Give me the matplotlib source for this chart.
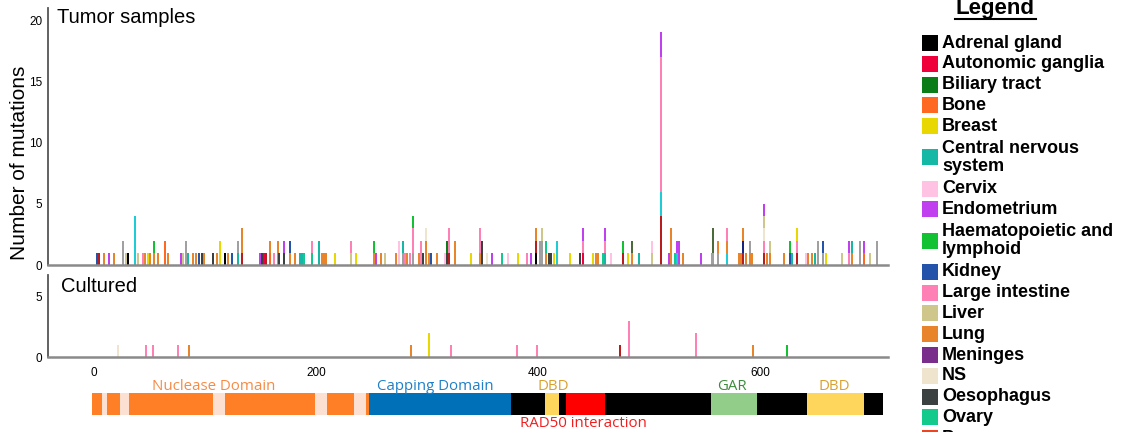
import numpy as np
import matplotlib.pyplot as plt
from matplotlib.patches import Rectangle
from matplotlib.lines import Line2D

plt.rcParams['font.family'] = ['Liberation Sans', 'DejaVu Sans']

### Data ###
# tissue code, legend name, colour (legend is cut off after Pancreas)
tissue_codes = ['AG', 'AU', 'BT', 'BO', 'BR', 'CN', 'CE', 'EN', 'HL', 'KI', 'LI', 'LV', 'LU',
                'ME', 'NS', 'OE', 'OV', 'PA', 'SK', 'ST', 'TH', 'UA', 'SO']
tissue_names = ['Adrenal gland', 'Autonomic ganglia', 'Biliary tract', 'Bone', 'Breast',
                'Central nervous\nsystem', 'Cervix', 'Endometrium', 'Haematopoietic and\nlymphoid',
                'Kidney', 'Large intestine', 'Liver', 'Lung', 'Meninges', 'NS', 'Oesophagus', 'Ovary',
                'Pancreas', 'Skin', 'Stomach', 'Thyroid', 'Upper aerodigestive tract', 'Soft tissue']
tissue_colors = ['#000000', '#F0003A', '#0A7D18', '#FF6820', '#E8D800', '#14B8A4', '#FFC2E2',
                 '#C040F0', '#12C232', '#2454AA', '#FF80B4', '#CFC68C', '#E8842A', '#7A2E8C',
                 '#EFE5CF', '#3B4040', '#12CA8C', '#EE4422', '#A0A0A0', '#B81C1C', '#1CCDD6',
                 '#4C6B3A', '#17257E']
n_legend = 18

# tumor samples: residue position and stacked counts per tissue (bottom first)
tumor_pos = [3, 5, 9.5, 14, 18.5, 26.5, 29, 30.5, 37, 39.5, 44, 46.5, 48.5, 50.5, 54.5, 58, 64, 66.5,
             78.5, 80.5, 83, 85, 89, 92.5, 94.5, 97.5, 99.5, 107.5, 111, 113.5, 118, 121, 124.5,
             129.5, 133.5, 150, 151.5, 153.5, 155.5, 159, 162.5, 165.5, 167, 171.5, 177, 181.5,
             186, 187.5, 189.5, 197, 202.5, 205.5, 207.5, 209.5, 217.5, 231.5, 236, 252, 254,
             258.5, 262.5, 272.5, 274.5, 278.5, 280.5, 282.5, 285, 287.5, 292.5, 294.5, 296.5,
             299, 301.5, 303.5, 309, 316.5, 318, 320, 325.5, 339.5, 348, 350, 354.5, 358.5, 367.5,
             373.5, 382, 390, 393.5, 398.5, 402, 404, 407.5, 410, 412, 414.5, 417.5, 429, 438,
             440.5, 450, 452.5, 454.5, 458.5, 460.5, 465.5, 476.5, 481.5, 484.5, 491, 502.5, 511,
             518.5, 520, 523.5, 525.5, 527.5, 530.5, 547, 556.5, 558, 562.5, 570.5, 581, 583,
             585, 587, 591, 593, 604, 606, 609, 621.5, 627, 628.5, 633, 641.5, 643.5, 647, 649.5,
             652, 656.5, 659.5, 674, 680.5, 682.5, 690, 694, 699, 705]
tumor_stacks = [
    [('KI', 1)], [('ST', 1)], [('LU', 1)], [('EN', 1)], [('LU', 1)], [('SK', 2)], [('LV', 1)],
    [('AG', 1)], [('TH', 4)], [('LV', 1)], [('LI', 1)], [('LU', 1)], [('BR', 1)], [('LU', 1)],
    [('LU', 1), ('HL', 1)], [('LU', 1)], [('BO', 2)], [('LU', 1)],
    [('EN', 1)], [('LV', 1)], [('SK', 2)], [('CN', 1)], [('LU', 1)], [('LU', 1)], [('KI', 1)],
    [('OE', 1)], [('LU', 1)], [('OE', 1)], [('LU', 1)], [('BR', 2)], [('AG', 1)], [('LU', 1)],
    [('KI', 1)],
    [('CN', 1), ('SK', 1)], [('ST', 1), ('LU', 2)], [('EN', 1)], [('OE', 1)], [('AU', 1)],
    [('ST', 1)], [('BO', 1), ('LU', 1)], [('LI', 1)], [('LU', 2)], [('OE', 1)],
    [('OE', 1), ('EN', 1)], [('LU', 1), ('KI', 1)], [('LU', 1)],
    [('CN', 1)], [('CN', 1)], [('OV', 1)], [('OV', 1), ('LI', 1)], [('CN', 2)], [('LU', 1)],
    [('LU', 1)], [('LU', 1)], [('BR', 1)], [('LV', 1), ('LI', 1)], [('BR', 1)],
    [('LU', 1), ('HL', 1)], [('EN', 1)],
    [('LU', 1)], [('LV', 1)], [('LU', 1)], [('CE', 2)], [('SK', 1), ('CN', 1)], [('LI', 1)],
    [('LU', 1)], [('LI', 1)], [('SK', 1), ('LI', 2), ('HL', 1)], [('LU', 1)], [('LI', 2)],
    [('OE', 1)],
    [('LU', 2), ('NS', 1)], [('LU', 1)], [('KI', 1)], [('LU', 1)], [('CE', 1)],
    [('OE', 1), ('BT', 1)], [('ST', 1), ('LI', 2)], [('LU', 2)], [('BR', 1)],
    [('LU', 1), ('LI', 2)], [('OE', 2)], [('NS', 1)], [('EN', 1)], [('OV', 1)],
    [('CE', 1)], [('BR', 1)], [('LI', 1)], [('EN', 1)], [('AG', 1), ('ST', 1), ('LU', 1)],
    [('SK', 2)], [('SK', 2), ('LV', 1)], [('LU', 1), ('OV', 1)], [('OE', 1)], [('OE', 1)],
    [('BR', 1)], [('TH', 2)], [('BR', 1)], [('OE', 1)],
    [('AU', 1), ('LI', 1), ('EN', 1)], [('BR', 1)], [('LU', 1)], [('LU', 1)], [('OV', 1)],
    [('CN', 1), ('LI', 1), ('EN', 1)], [('CE', 1)], [('ST', 1), ('HL', 1)], [('BR', 1)],
    [('LU', 1), ('UA', 1)], [('CN', 1)], [('LV', 1), ('CE', 1)],
    [('ST', 4), ('TH', 2), ('LI', 11), ('EN', 2)],
    [('EN', 1)], [('LU', 3)], [('OV', 1)], [('TH', 1), ('EN', 1)], [('EN', 2)], [('LU', 1)],
    [('EN', 1)], [('SK', 1)], [('SK', 1), ('UA', 2)], [('SK', 1), ('LU', 1)],
    [('TH', 1), ('LU', 1), ('LI', 1)], [('LU', 1)], [('LU', 1)],
    [('ST', 1), ('SO', 1), ('LU', 1)], [('LU', 1)], [('LU', 1), ('SK', 1)], [('LU', 1)],
    [('ST', 1), ('LI', 1), ('NS', 1), ('LV', 1), ('EN', 1)], [('LU', 1)], [('LU', 1), ('LV', 1)],
    [('LU', 1)], [('KI', 1), ('HL', 1)], [('CN', 1)], [('ST', 1), ('LI', 1), ('BR', 1)],
    [('CE', 1)], [('LU', 1)], [('LU', 1)], [('CN', 1)],
    [('SK', 2)], [('SK', 1), ('KI', 1)], [('BR', 1)], [('LV', 1)], [('LI', 1), ('EN', 1)],
    [('LU', 1), ('CN', 1)], [('SK', 2)], [('BO', 1), ('EN', 1)], [('LV', 1)], [('SK', 2)],
]

# cultured cell lines
cult_pos = [22, 47, 53, 76, 86, 285.5, 302, 321.5, 381, 399.5, 474, 482, 542.5, 593.5, 624]
cult_tissue = ['NS', 'LI', 'LI', 'LI', 'LU', 'LU', 'BR', 'LI', 'LI', 'LI', 'ST', 'LI', 'LI', 'LU', 'HL']
cult_count = [1, 1, 1, 1, 1, 1, 2, 1, 1, 1, 1, 3, 2, 1, 1]

# MRE11 domain map (start, end)
dom_orange = [(-2, 7.5), (12, 23.5), (32, 107.5), (118, 199.5), (210, 234.5), (245, 248)]
dom_light = [(7.5, 12), (23.5, 32), (107.5, 118), (199.5, 210), (234.5, 245)]
dom_blue = [(248, 376)]
dom_black = [(376, 406.5), (419, 425.5), (460.5, 556), (597.5, 642.5), (694, 711)]
dom_yellow = [(406.5, 419), (642.5, 694)]
dom_red = [(425.5, 460.5)]
dom_green = [(556, 597.5)]
dom_labels = ['Nuclease Domain', 'Capping Domain', 'DBD', 'GAR', 'DBD']
dom_label_x = [108, 308, 414, 575, 667]
dom_label_col = ['#F68B45', '#1F80C8', '#D9A02E', '#3E8B3E', '#D9A02E']

color_of = dict(zip(tissue_codes, tissue_colors))
W, H = 1122, 432
xlim = (-41.2, 715.3)
bar_w = 1.8

fig = plt.figure(figsize=(W / 100, H / 100), dpi=100)


def px_axes(x0, y0, x1, y1):
    return fig.add_axes([x0 / W, 1 - y1 / H, (x1 - x0) / W, (y1 - y0) / H])


def style(ax, top):
    ax.set_xlim(*xlim)
    ax.set_ylim(0, top)
    for s in ['top', 'right']:
        ax.spines[s].set_visible(False)
    ax.spines['left'].set_color('#555555')
    ax.spines['left'].set_linewidth(1.3)
    ax.spines['bottom'].set_color('#8A8A8A')
    ax.spines['bottom'].set_linewidth(1.8)
    ax.tick_params(length=0, labelsize=8.5, pad=4)


# tumor samples
ax1 = px_axes(48, 8, 888, 265)
style(ax1, 21)
for pos, stack in zip(tumor_pos, tumor_stacks):
    b = 0
    for code, n in stack:
        ax1.bar(pos, n, bottom=b, width=bar_w, color=color_of[code], linewidth=0)
        b += n
ax1.set_yticks([0, 5, 10, 15, 20])
ax1.set_xticks([])
ax1.text(0.011, 0.94, 'Tumor samples', transform=ax1.transAxes, fontsize=14.5, va='baseline')

# cultured
ax2 = px_axes(48, 275, 888, 357)
style(ax2, 6.8)
for pos, code, n in zip(cult_pos, cult_tissue, cult_count):
    ax2.bar(pos, n, width=bar_w, color=color_of[code], linewidth=0)
ax2.set_yticks([0, 5])
ax2.set_xticks([0, 200, 400, 600])
ax2.tick_params(axis='x', pad=7)
ax2.text(0.015, 0.79, 'Cultured', transform=ax2.transAxes, fontsize=14.5, va='baseline')

fig.text(19.5 / W, 1 - 163 / H, 'Number of mutations', rotation=90, fontsize=15,
         ha='center', va='center')

# domain track
ax3 = px_axes(48, 376, 888, 432)
ax3.set_xlim(*xlim)
ax3.set_ylim(432, 376)
ax3.axis('off')
for segs, col in [(dom_orange, '#FF7F27'), (dom_light, '#FCE0D2'), (dom_blue, '#0070B8'),
                  (dom_black, '#000000'), (dom_yellow, '#FFD65C'), (dom_red, '#FF0000'),
                  (dom_green, '#93CD8A')]:
    ax3.broken_barh([(s, e - s) for s, e in segs], (393, 22), facecolors=col, linewidth=0)
for lab, x, c in zip(dom_labels, dom_label_x, dom_label_col):
    ax3.text(x, 389.5, lab, color=c, fontsize=10.8, ha='center', va='baseline',
             family='Open Sans')
ax3.text(441, 426.5, 'RAD50 interaction', color='#F01E1E', fontsize=10.8, ha='center',
         va='baseline', family='Open Sans')

# legend
axl = px_axes(900, 0, 1122, 432)
axl.set_xlim(900, 1122)
axl.set_ylim(432, 0)
axl.axis('off')
axl.text(995, 14, 'Legend', fontsize=16, fontweight='bold', ha='center', va='baseline')
axl.add_line(Line2D([955, 1036], [19, 19], color='black', linewidth=1.5))
line = 0
for name, col in zip(tissue_names[:n_legend], tissue_colors[:n_legend]):
    nl = name.count('\n') + 1
    yc = 43 + (line + (nl - 1) / 2) * 20.8
    axl.add_patch(Rectangle((922, yc - 8), 16, 16, facecolor=col, edgecolor='none', clip_on=False))
    axl.text(942, yc, name, fontsize=13, fontweight='bold', va='center', ha='left',
             linespacing=1.1, clip_on=False)
    line += nl

fig.savefig('out.png', dpi=100)
